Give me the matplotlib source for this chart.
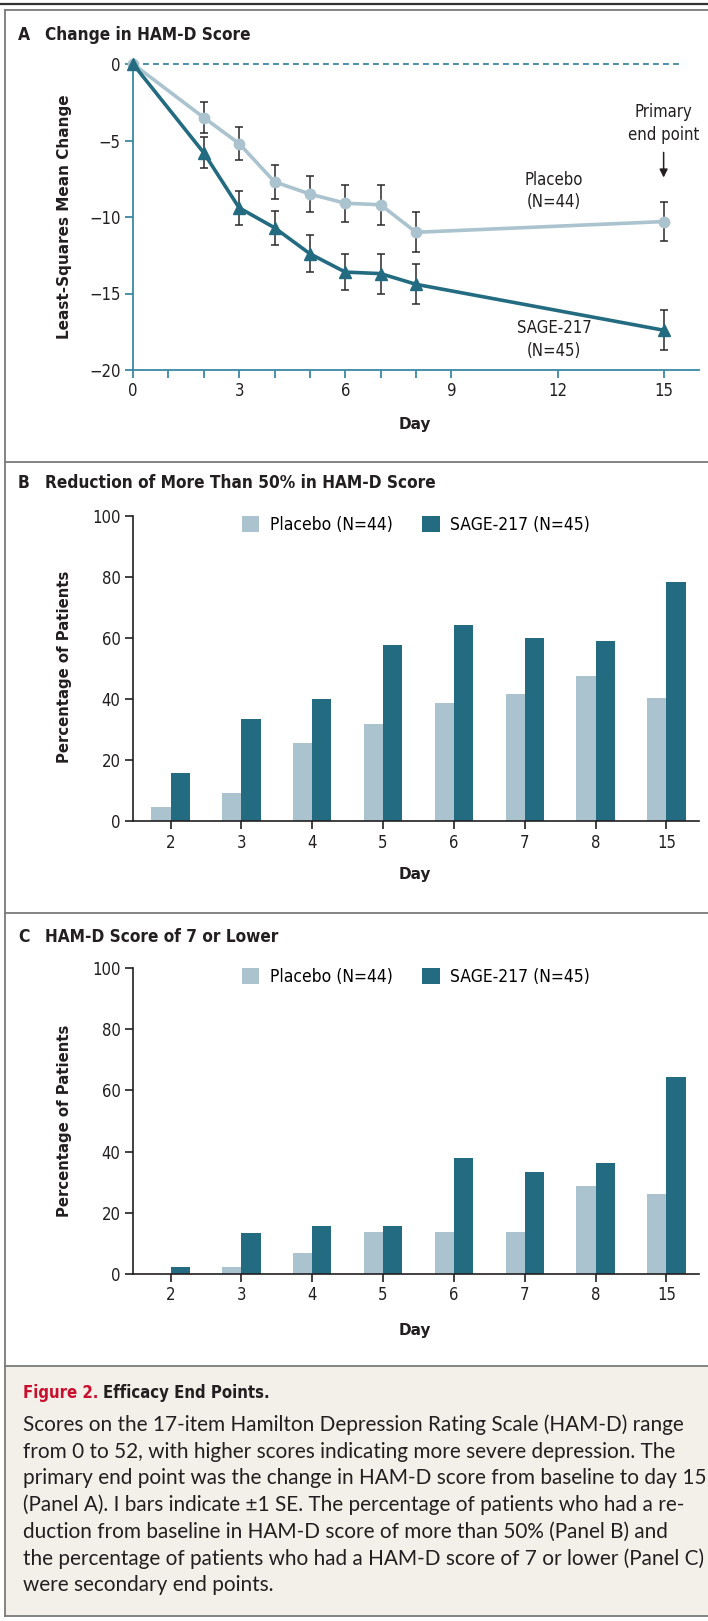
import matplotlib.pyplot as plt
from matplotlib.lines import Line2D
from matplotlib.patches import Rectangle

# panel A: least-squares mean change in HAM-D
days_a = [0, 2, 3, 4, 5, 6, 7, 8, 15]
placebo_a = [0, -3.5, -5.2, -7.7, -8.5, -9.1, -9.2, -11.0, -10.3]
placebo_se = [0, 1.0, 1.1, 1.1, 1.2, 1.2, 1.3, 1.3, 1.3]
sage_a = [0, -5.8, -9.4, -10.7, -12.4, -13.6, -13.7, -14.4, -17.4]
sage_se = [0, 1.0, 1.1, 1.1, 1.2, 1.2, 1.3, 1.3, 1.3]

# panels B and C: percentage of patients
days_bc = ["2", "3", "4", "5", "6", "7", "8", "15"]
placebo_b = [4.5, 9.1, 25.6, 31.8, 38.6, 41.6, 47.6, 40.4]
sage_b = [15.6, 33.3, 40.0, 57.8, 64.4, 60.0, 59.1, 78.3]
placebo_c = [0, 2.3, 6.8, 13.6, 13.6, 13.6, 28.6, 26.2]
sage_c = [2.2, 13.3, 15.6, 15.6, 37.8, 33.3, 36.4, 64.4]

caption_lines = [
    "Scores on the 17-item Hamilton Depression Rating Scale (HAM-D) range",
    "from 0 to 52, with higher scores indicating more severe depression. The",
    "primary end point was the change in HAM-D score from baseline to day 15",
    "(Panel A). I bars indicate \u00b11 SE. The percentage of patients who had a re-",
    "duction from baseline in HAM-D score of more than 50% (Panel B) and",
    "the percentage of patients who had a HAM-D score of 7 or lower (Panel C)",
    "were secondary end points.",
]

C_PLA = "#abc3ce"
C_SAGE = "#236b80"
C_AXA = "#3a88a6"
C_TXT = "#231f20"
NARROW = dict(family="DejaVu Sans", stretch="condensed")
BODY = ["Lato", "DejaVu Sans"]

W, H = 708, 1621
fig = plt.figure(figsize=(W / 100, H / 100), dpi=100)


def rect(l, t, r, b):
    return [l / W, 1 - b / H, (r - l) / W, (b - t) / H]


def ftext(x, y, s, **kw):
    return fig.text(x / W, 1 - y / H, s, **kw)


def hline(y, x0=0, x1=W, **kw):
    fig.add_artist(Line2D([x0 / W, x1 / W], [1 - y / H, 1 - y / H], **kw))


# caption background and frame
fig.add_artist(Rectangle((5 / W, 1 - 1616 / H), (W - 5) / W, 250 / H,
                         facecolor="#f3f0ea", edgecolor="none"))
hline(4, lw=1.6, color="#333333")
for yy in [10, 462, 913, 1366, 1616]:
    hline(yy, x0=5, lw=1.3, color="#7a7a7a")
fig.add_artist(Line2D([5 / W, 5 / W], [1 - 10 / H, 1 - 1616 / H],
                      lw=1.3, color="#7a7a7a"))

# ---- panel A ----
ax = fig.add_axes(rect(133, 64, 699, 370))
ax.errorbar(days_a[1:], placebo_a[1:], yerr=placebo_se[1:], fmt="none",
            ecolor="#2a2a2a", elinewidth=1.1, capsize=3, capthick=1.1, zorder=2)
ax.errorbar(days_a[1:], sage_a[1:], yerr=sage_se[1:], fmt="none",
            ecolor="#2a2a2a", elinewidth=1.1, capsize=3, capthick=1.1, zorder=2)
ax.plot(days_a, placebo_a, color=C_PLA, lw=2.6, marker="o", ms=7.5,
        zorder=3, clip_on=False)
ax.plot(days_a, sage_a, color=C_SAGE, lw=2.6, marker="^", ms=8,
        zorder=4, clip_on=False)
ax.plot([0, 15.5], [0, 0], ls=(0, (3.5, 2.5)), color="#2a7c9a", lw=1.2,
        zorder=1, clip_on=False)
ax.set_xlim(0, 16)
ax.set_ylim(-20, 0)
ax.set_xticks([0, 1, 2, 3, 4, 5, 6, 7, 8, 9, 12, 15])
ax.set_xticklabels(["0", "", "", "3", "", "", "6", "", "", "9", "12", "15"])
ax.set_yticks([0, -5, -10, -15, -20])
ax.set_yticklabels(["0", "\u22125", "\u221210", "\u221215", "\u221220"])
for s in ["top", "right"]:
    ax.spines[s].set_visible(False)
for s in ["left", "bottom"]:
    ax.spines[s].set_color(C_AXA)
    ax.spines[s].set_linewidth(1.3)
ax.tick_params(colors=C_AXA, width=1.3, length=6, labelcolor=C_TXT,
               labelsize=12, pad=3)
for lab in ax.get_xticklabels() + ax.get_yticklabels():
    lab.set(**NARROW)
ax.text(11.9, -8.3, "Placebo\n(N=44)", ha="center", va="center",
        fontsize=12, color=C_TXT, linespacing=1.35, **NARROW)
ax.text(11.9, -18.0, "SAGE-217\n(N=45)", ha="center", va="center",
        fontsize=12, color=C_TXT, linespacing=1.35, **NARROW)
ax.text(15, -3.9, "Primary\nend point", ha="center", va="center",
        fontsize=12, color=C_TXT, linespacing=1.35, **NARROW)
ax.annotate("", xy=(15, -7.6), xytext=(15, -5.6),
            arrowprops=dict(arrowstyle="-|>", color=C_TXT, lw=1.1,
                            mutation_scale=12))
ftext(65, 217, "Least-Squares Mean Change", rotation=90, ha="center",
      va="center", fontsize=11, fontweight="bold", color=C_TXT)
ftext(415, 425, "Day", ha="center", va="center", fontsize=11,
      fontweight="bold", color=C_TXT)


def bar_panel(top, bottom, placebo, sage):
    bx = fig.add_axes(rect(133, top, 699, bottom))
    pos = range(len(days_bc))
    w = 0.27
    b1 = bx.bar([p - w / 2 for p in pos], placebo, width=w, color=C_PLA)
    b2 = bx.bar([p + w / 2 for p in pos], sage, width=w, color=C_SAGE)
    bx.set_xlim(-0.53, 7.46)
    bx.set_ylim(0, 100)
    bx.set_xticks(list(pos))
    bx.set_xticklabels(days_bc)
    bx.set_yticks([0, 20, 40, 60, 80, 100])
    for s in ["top", "right"]:
        bx.spines[s].set_visible(False)
    for s in ["left", "bottom"]:
        bx.spines[s].set_color(C_TXT)
        bx.spines[s].set_linewidth(1.2)
    bx.tick_params(colors=C_TXT, width=1.2, length=6, labelsize=12, pad=3)
    for lab in bx.get_xticklabels() + bx.get_yticklabels():
        lab.set(**NARROW)
    bx.legend([b1, b2], ["Placebo (N=44)", "SAGE-217 (N=45)"], ncol=2,
              loc="upper center", bbox_to_anchor=(0.5, 1.0), frameon=False,
              borderaxespad=0, borderpad=0, handlelength=1.0,
              handleheight=1.0, handletextpad=0.6, columnspacing=1.7,
              prop=dict(size=12.5, **NARROW))
    return bx


bar_panel(516, 821, placebo_b, sage_b)
bar_panel(968, 1274, placebo_c, sage_c)

for yc in [667, 1121]:
    ftext(65, yc, "Percentage of Patients", rotation=90, ha="center",
          va="center", fontsize=10.7, fontweight="bold", color=C_TXT)
for yc in [875, 1330]:
    ftext(415, yc, "Day", ha="center", va="center", fontsize=11,
          fontweight="bold", color=C_TXT)

# panel titles
titles = [(34.5, "A", "Change in HAM-D Score"),
          (483, "B", "Reduction of More Than 50% in HAM-D Score"),
          (937, "C", "HAM-D Score of 7 or Lower")]
for yc, letter, title in titles:
    ftext(18, yc, letter, ha="left", va="center", fontsize=12.5,
          fontweight="bold", color=C_TXT, **NARROW)
    ftext(45, yc, title, ha="left", va="center", fontsize=12.3,
          fontweight="bold", color=C_TXT, **NARROW)

# caption
fig_lab = ftext(22.6, 1393, "Figure 2.", ha="left", va="center", fontsize=12,
                fontweight="bold", color="#c8102e", **NARROW)
fig_tit = ftext(105, 1393, "Efficacy End Points.", ha="left", va="center",
                fontsize=12, fontweight="bold", color=C_TXT, **NARROW)
line_y = [1425, 1451.7, 1478.3, 1505, 1531.7, 1558.3, 1585]
texts = [ftext(22.6, y, s, ha="left", va="center", fontsize=13,
               family=BODY, color=C_TXT) for y, s in zip(line_y, caption_lines)]
# fit the caption size so that the first line spans the box width
fig.canvas.draw()
w0 = texts[0].get_window_extent().width
for t in texts:
    t.set_fontsize(13 * 659 / w0)
ext = fig_lab.get_window_extent()
fig_tit.set_x((ext.x1 + 5) / W)

fig.savefig("out.png", dpi=100)
